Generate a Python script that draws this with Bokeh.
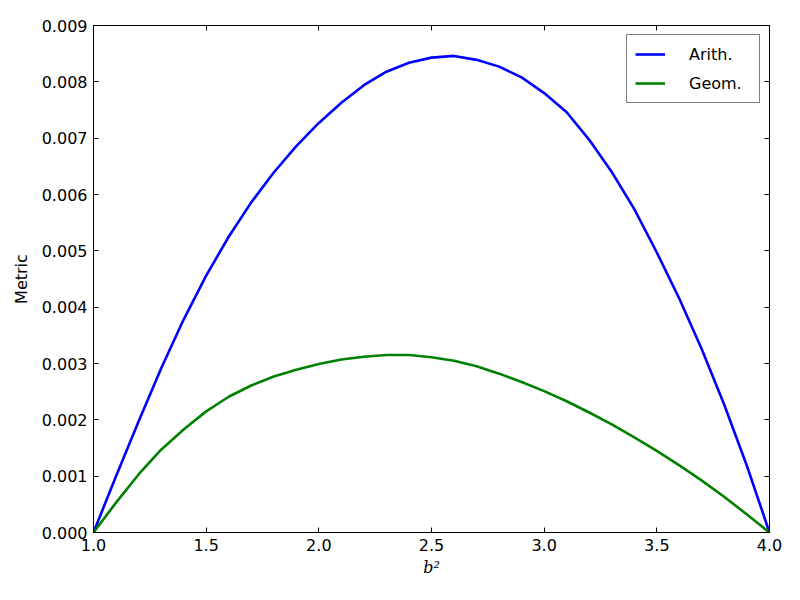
from bokeh.plotting import figure
from bokeh.models import Range1d, LinearAxis, FixedTicker, NumeralTickFormatter, Legend, LegendItem
from bokeh.embed import file_html
from bokeh.resources import INLINE

b2 = [1.0, 1.1, 1.2, 1.3, 1.4, 1.5, 1.6, 1.7, 1.8, 1.9, 2.0,
      2.1, 2.2, 2.3, 2.4, 2.5, 2.6, 2.7, 2.8, 2.9, 3.0,
      3.1, 3.2, 3.3, 3.4, 3.5, 3.6, 3.7, 3.8, 3.9, 4.0]

arith = [0.0, 0.00100, 0.00197, 0.00291, 0.00378, 0.00456, 0.00525, 0.00586, 0.00639, 0.00686, 0.00727,
         0.00763, 0.00794, 0.00818, 0.00834, 0.00843, 0.00846, 0.00839, 0.00827, 0.00808, 0.00780,
         0.00746, 0.00697, 0.00640, 0.00574, 0.00497, 0.00415, 0.00325, 0.00226, 0.00118, 0.0]

geom = [0.0, 0.00053, 0.00103, 0.00147, 0.00183, 0.00215, 0.00241, 0.00261, 0.00277, 0.00289, 0.00299,
        0.00307, 0.00312, 0.00315, 0.00315, 0.00311, 0.00305, 0.00295, 0.00282, 0.00267, 0.00251,
        0.00233, 0.00213, 0.00192, 0.00169, 0.00145, 0.00119, 0.00092, 0.00063, 0.00032, 0.0]

x_ticks = [1.0, 1.5, 2.0, 2.5, 3.0, 3.5, 4.0]
y_ticks = [0.0, 0.001, 0.002, 0.003, 0.004, 0.005, 0.006, 0.007, 0.008, 0.009]

series_names = ["Arith.", "Geom."]
x_label = "b²"
y_label = "Metric"

FONT = "DejaVu Sans"
FS = "16px"

p = figure(frame_width=676, frame_height=507,
           min_border_left=93, min_border_top=25, min_border_right=15, min_border_bottom=52,
           x_range=Range1d(1.0, 4.0), y_range=Range1d(0.0, 0.009),
           output_backend="svg", toolbar_location=None,
           x_axis_location=None, y_axis_location=None)

p.xgrid.visible = False
p.ygrid.visible = False
p.outline_line_color = "black"
p.outline_line_width = 1
p.background_fill_color = "white"
p.border_fill_color = "white"

def style_axis(ax, ticks, fmt, show_labels):
    ax.ticker = FixedTicker(ticks=ticks)
    ax.formatter = NumeralTickFormatter(format=fmt)
    ax.axis_line_color = "black"
    ax.major_tick_line_color = "black"
    ax.major_tick_in = 5
    ax.major_tick_out = 0
    ax.minor_tick_line_color = None
    ax.major_label_text_font = FONT
    if show_labels:
        ax.major_label_text_color = "black"
        ax.major_label_text_font_size = FS
        ax.major_label_standoff = 6
    else:
        ax.major_label_text_color = None
        ax.major_label_text_font_size = "1px"
        ax.major_label_standoff = 0

xb = LinearAxis()
style_axis(xb, x_ticks, "0.0", True)
xb.axis_label = x_label
xb.axis_label_text_font = "DejaVu Serif"
xb.axis_label_text_font_style = "italic"
xb.axis_label_text_font_size = FS
xb.axis_label_text_color = "black"
xb.axis_label_standoff = 4
p.add_layout(xb, "below")

yl = LinearAxis()
style_axis(yl, y_ticks, "0.000", True)
yl.axis_label = y_label
yl.axis_label_text_font = FONT
yl.axis_label_text_font_style = "normal"
yl.axis_label_text_font_size = FS
yl.axis_label_text_color = "black"
yl.axis_label_standoff = 8
p.add_layout(yl, "left")

xt = LinearAxis()
style_axis(xt, x_ticks, "0.0", False)
p.add_layout(xt, "above")

yr = LinearAxis()
style_axis(yr, y_ticks, "0.000", False)
p.add_layout(yr, "right")

r1 = p.line(b2, arith, line_color="#0000ff", line_width=2.6, line_join="round")
r2 = p.line(b2, geom, line_color="#008000", line_width=2.6, line_join="round")

legend = Legend(items=[LegendItem(label=series_names[0], renderers=[r1]),
                       LegendItem(label=series_names[1], renderers=[r2])],
                location="top_right")
legend.margin = 9
legend.padding = 8
legend.spacing = 7
legend.glyph_width = 30
legend.glyph_height = 22
legend.label_height = 22
legend.label_width = 62
legend.label_standoff = 24
legend.label_text_font = FONT
legend.label_text_font_size = FS
legend.label_text_color = "black"
legend.border_line_color = "black"
legend.border_line_width = 1
legend.background_fill_color = "white"
legend.background_fill_alpha = 1.0
p.add_layout(legend, "center")

open("out.html", "w").write(file_html(p, INLINE))
